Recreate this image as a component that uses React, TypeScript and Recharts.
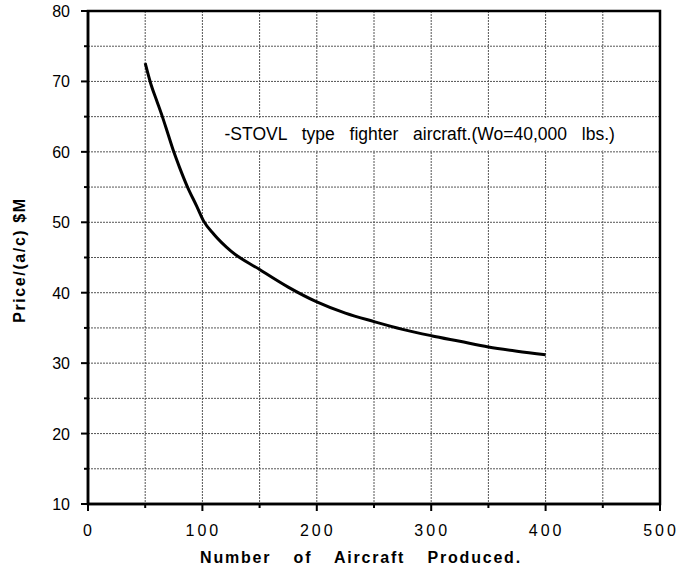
import React from 'react';
import {
  LineChart,
  Line,
  XAxis,
  YAxis,
  CartesianGrid,
  ReferenceArea,
  Label,
} from 'recharts';

const produced = [50, 55, 60, 65, 70, 75, 80, 87, 95, 101, 110, 125, 150, 175, 200, 225, 250, 275, 300, 325, 350, 375, 400];
const price = [72.6, 69.6, 67.3, 65, 62.5, 60, 57.8, 55, 52.3, 50.2, 48.3, 45.9, 43.3, 40.8, 38.7, 37.1, 35.9, 34.8, 33.9, 33.1, 32.3, 31.7, 31.2];

const xTicks = [0, 50, 100, 150, 200, 250, 300, 350, 400, 450, 500];
const yTicks = [10, 15, 20, 25, 30, 35, 40, 45, 50, 55, 60, 65, 70, 75, 80];
const xGrid = [50, 100, 150, 200, 250, 300, 350, 400, 450];
const yGrid = [15, 20, 25, 30, 35, 40, 45, 50, 55, 60, 65, 70, 75];

const note = '-STOVL type fighter aircraft.(Wo=40,000 lbs.)';

const data = produced.map((n, i) => ({ n, price: price[i] }));

const FONT = '"Liberation Sans", Arial, Helvetica, sans-serif';

const XTick = ({ x, y, payload }: any) => {
  const major = payload.value % 100 === 0;
  return (
    <g>
      <line x1={x} y1={y} x2={x} y2={y + (major ? 7 : 4)} stroke="#000" strokeWidth={2} />
      {major && (
        <text x={x + 1} y={y + 32} textAnchor="middle" fontFamily={FONT} fontSize={16} letterSpacing={3} fill="#000">
          {payload.value}
        </text>
      )}
    </g>
  );
};

const YTick = ({ x, y, payload }: any) => {
  const major = payload.value % 10 === 0;
  return (
    <g>
      <line x1={x} y1={y} x2={x - (major ? 7 : 4)} y2={y} stroke="#000" strokeWidth={2} />
      {major && (
        <text x={x - 18} y={y + 6} textAnchor="end" fontFamily={FONT} fontSize={16} fill="#000">
          {payload.value}
        </text>
      )}
    </g>
  );
};

export default function App() {
  return (
    <div style={{ position: 'absolute', left: 0, top: 0, background: '#fff' }}>
      <LineChart width={678} height={572} data={data} margin={{ top: 11, right: 18, left: 0, bottom: 0 }}>
        <CartesianGrid
          stroke="#555"
          strokeDasharray="2 1"
          strokeWidth={1}
          verticalValues={xGrid}
          horizontalValues={yGrid}
        />
        <XAxis
          dataKey="n"
          type="number"
          domain={[0, 500]}
          ticks={xTicks}
          height={68}
          tickSize={0}
          tickMargin={0}
          tickLine={false}
          axisLine={{ stroke: '#000', strokeWidth: 2.5 }}
          tick={<XTick />}
          interval={0}
        >
          <Label
            content={() => (
              <text x={361} y={563} textAnchor="middle" fontFamily={FONT} fontWeight="bold" fontSize={16} letterSpacing={1.8} wordSpacing={16} fill="#000">
                Number of Aircraft Produced.
              </text>
            )}
          />
        </XAxis>
        <YAxis
          type="number"
          domain={[10, 80]}
          ticks={yTicks}
          width={88}
          tickSize={0}
          tickMargin={0}
          tickLine={false}
          axisLine={{ stroke: '#000', strokeWidth: 2.5 }}
          tick={<YTick />}
          interval={0}
        >
          <Label
            content={() => (
              <text x={25} y={260} transform="rotate(-90 25 260)" textAnchor="middle" fontFamily={FONT} fontWeight="bold" fontSize={16} letterSpacing={1.6} fill="#000">
                Price/(a/c) $M
              </text>
            )}
          />
        </YAxis>
        <ReferenceArea x1={0} x2={500} y1={10} y2={80} fill="none" stroke="#000" strokeWidth={2.5} ifOverflow="visible" />
        <ReferenceArea
          x1={115}
          x2={498}
          y1={60.2}
          y2={64.8}
          fill="#fff"
          fillOpacity={1}
          stroke="none"
          label={(props: any) => {
            const vb = props.viewBox;
            return (
              <text x={vb.x + 5} y={vb.y + vb.height / 2 + 6} fontFamily={FONT} fontSize={17.5} wordSpacing={10} fill="#000">
                {note}
              </text>
            );
          }}
        />
        <Line
          type="monotone"
          dataKey="price"
          stroke="#000"
          strokeWidth={3}
          dot={false}
          isAnimationActive={false}
        />
      </LineChart>
    </div>
  );
}
